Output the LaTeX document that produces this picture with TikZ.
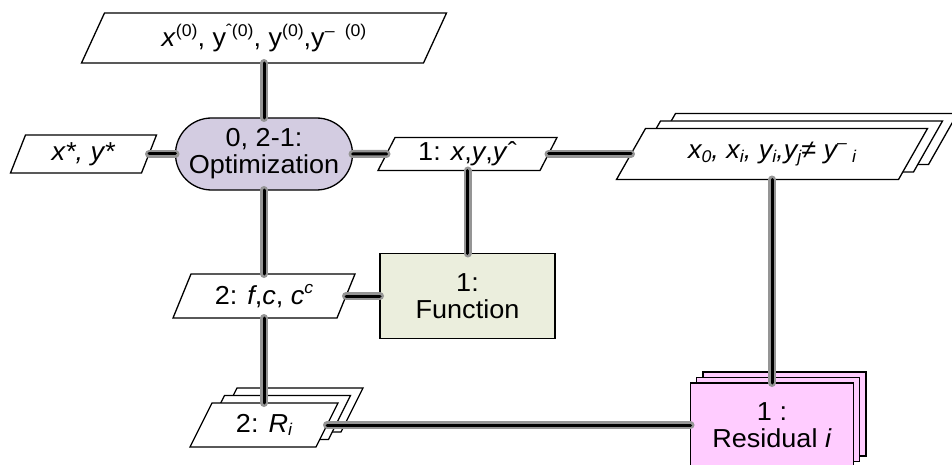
\documentclass[tikz,border=0pt]{standalone}
\usepackage{fontspec}
\setmainfont{Liberation Sans}[FakeStretch=1.04]
\usetikzlibrary{shapes.misc,calc}

\definecolor{optfill}{HTML}{D3CCE1}
\definecolor{funfill}{HTML}{EBEEDD}
\definecolor{resfill}{HTML}{FFCCFF}
\definecolor{connhalo}{HTML}{959595}

\pgfdeclarelayer{background}
\pgfsetlayers{background,main}

% small raised and lowered indices
\newcommand\suptext[1]{\raisebox{0.4em}{\fontsize{17}{17}\selectfont #1}}
\newcommand\subtext[1]{\raisebox{-0.14em}{\fontsize{17}{17}\selectfont #1}}

\tikzset{
  box/.style={draw=black, line width=1.3pt, inner sep=0pt, outer sep=0pt,
    align=center, font=\fontsize{26}{27}\selectfont},
  datanode/.style={box, rectangle, draw=none},
  optbox/.style={box, rounded rectangle, fill=optfill},
  funbox/.style={box, rectangle, fill=funfill},
  resbox/.style={box, rectangle, fill=resfill},
  paraedge/.style={fill=white, draw=black, line width=1.3pt},
  conn/.style={draw=connhalo, line width=2.5pt, double=black,
    double distance=3pt, line cap=round},
}

% parallelogram outline around a data node: node, half slant, dx, dy
\newcommand\paraoutline[4]{%
  \filldraw[paraedge]
    ($(#1.north west)+(#2+#3,#4)$) -- ($(#1.north east)+(#2+#3,#4)$) --
    ($(#1.south east)+(-#2+#3,#4)$) -- ($(#1.south west)+(-#2+#3,#4)$) -- cycle;}

\begin{document}
\begin{tikzpicture}[x=1pt,y=-1pt]
\useasboundingbox (0,0) rectangle (952,465);

% data blocks (outlines are drawn on the background layer)
\node[datanode, minimum width=342, minimum height=50] (init) at (264,38)
  {\textit{x}\suptext{(0)}, y\suptext{ˆ(0)}, y\suptext{(0)},y\suptext{–\hspace{0.6em}(0)}};
\node[datanode, minimum width=131, minimum height=38] (xstar) at (83.5,154)
  {\textit{x*, y*}};
\node[datanode, minimum width=162, minimum height=33] (xyy) at (467.5,154)
  {1: \textit{x},\textit{y},\textit{y}ˆ};
\node[datanode, minimum width=282, minimum height=51] (xs) at (772,154)
  {\textit{x\subtext{0}, x\subtext{i}, y\subtext{i},y\subtext{j}}≠ \textit{y\suptext{–}\hspace{5pt}\subtext{i}}};
\node[datanode, minimum width=164, minimum height=44] (fc) at (264,296)
  {2: \textit{f},\textit{c}, \textit{c\suptext{c}}};
\node[datanode, minimum width=126, minimum height=44] (rs) at (264,425)
  {2: \textit{R\subtext{i}}};

% process blocks
\node[optbox, minimum width=177, minimum height=72] (opt) at (264,154)
  {0, 2-1:\\Optimization};
\node[funbox, minimum width=175, minimum height=85] (fun) at (467.5,296)
  {1:\\Function};
\node[resbox, minimum width=163, minimum height=84] (res) at (772,425)
  {1 :\\Residual \textit{i}};

\begin{pgfonlayer}{background}
  % stacked copies behind the multi-instance blocks
  \node[resbox, minimum width=163, minimum height=84] (resC) at (784.5,414) {};
  \node[resbox, minimum width=163, minimum height=84] (resB) at (778,419.5) {};
  \paraoutline{xs}{14.5}{30}{-15}
  \paraoutline{xs}{14.5}{15}{-7.5}
  \paraoutline{rs}{11}{25}{-15}
  \paraoutline{rs}{11}{12.5}{-7.5}
  % front outlines
  \paraoutline{init}{11.5}{0}{0}
  \paraoutline{xstar}{7.5}{0}{0}
  \paraoutline{xyy}{8.5}{0}{0}
  \paraoutline{xs}{14.5}{0}{0}
  \paraoutline{fc}{9}{0}{0}
  \paraoutline{rs}{11}{0}{0}
\end{pgfonlayer}

% data connections
\draw[conn] (init) -- (opt);
\draw[conn] (xstar) -- (opt);
\draw[conn] (opt) -- (xyy);
\draw[conn] (xyy) -- (xs);
\draw[conn] (xyy) -- (fun);
\draw[conn] (opt) -- (fc);
\draw[conn] (fc) -- (fun);
\draw[conn] (fc) -- (rs);
\draw[conn] (rs) -- (res);
\draw[conn] (xs) -- (res);
\end{tikzpicture}
\end{document}
